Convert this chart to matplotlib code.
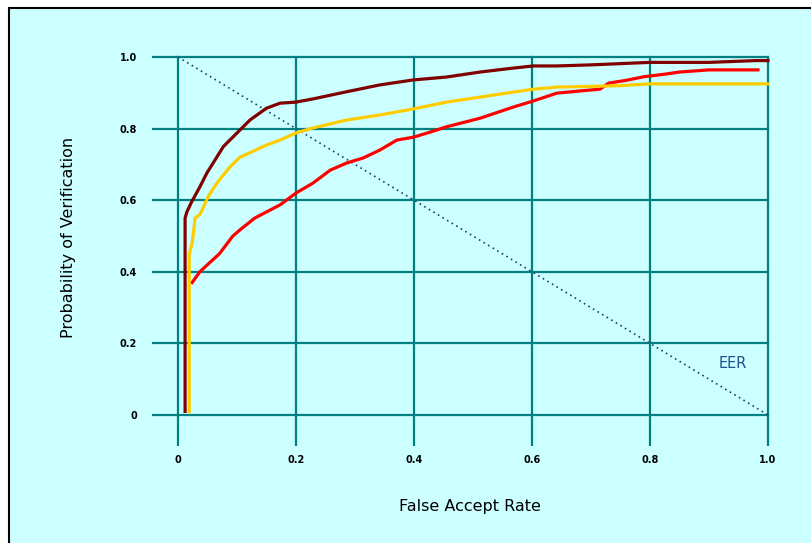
import matplotlib
matplotlib.use("Agg")
import matplotlib.pyplot as plt
from matplotlib.patches import Rectangle

# Data
far_dark = [0.012, 0.012, 0.015, 0.023, 0.037, 0.049, 0.077, 0.105, 0.122, 0.15, 0.173, 0.2, 0.229,
            0.286, 0.342, 0.399, 0.455, 0.512, 0.568, 0.602, 0.642, 0.7, 0.8, 0.9, 0.98, 1.0]
pv_dark = [0.01, 0.55, 0.567, 0.595, 0.637, 0.676, 0.75, 0.796, 0.824, 0.857, 0.871, 0.874, 0.883,
           0.903, 0.922, 0.936, 0.944, 0.958, 0.969, 0.975, 0.975, 0.978, 0.985, 0.985, 0.99, 0.99]

far_yellow = [0.019, 0.019, 0.024, 0.027, 0.029, 0.037, 0.043, 0.051, 0.066, 0.088, 0.105, 0.15,
              0.173, 0.2, 0.229, 0.286, 0.342, 0.399, 0.455, 0.512, 0.568, 0.602, 0.642, 0.7,
              0.75, 0.8, 1.0]
pv_yellow = [0.01, 0.45, 0.48, 0.52, 0.55, 0.56, 0.58, 0.61, 0.648, 0.693, 0.72, 0.754,
             0.768, 0.788, 0.802, 0.824, 0.838, 0.855, 0.874, 0.888, 0.902, 0.91, 0.916, 0.918,
             0.92, 0.925, 0.925]

far_red = [0.024, 0.037, 0.05, 0.07, 0.093, 0.105, 0.13, 0.173, 0.2, 0.229, 0.258, 0.286, 0.314,
           0.342, 0.371, 0.399, 0.427, 0.455, 0.512, 0.568, 0.602, 0.642, 0.68, 0.715, 0.73,
           0.76, 0.79, 0.825, 0.85, 0.9, 0.983]
pv_red = [0.37, 0.4, 0.42, 0.45, 0.5, 0.517, 0.55, 0.587, 0.62, 0.648, 0.684, 0.704, 0.718,
          0.74, 0.768, 0.776, 0.79, 0.805, 0.829, 0.86, 0.877, 0.899, 0.905, 0.91, 0.927,
          0.935, 0.945, 0.952, 0.958, 0.964, 0.964]

eer_x = [0.0, 1.0]
eer_y = [1.0, 0.0]

ticks = [0, 0.2, 0.4, 0.6, 0.8, 1.0]
tick_labels = ["0", "0.2", "0.4", "0.6", "0.8", "1.0"]

bg = "#ccffff"
teal = "#008080"

fig = plt.figure(figsize=(8.11, 5.43), dpi=100)
fig.patch.set_facecolor("white")
fig.patches.append(Rectangle((9 / 811, -0.01), 1.02, 1 - 8 / 543 + 0.01,
                             transform=fig.transFigure, facecolor=bg,
                             edgecolor="black", linewidth=1.5, zorder=-5))

ax = fig.add_axes([178 / 811, 1 - 415 / 543, 590 / 811, 358 / 543])
ax.set_zorder(3)
ax.set_facecolor("none")
ax.set_xlim(0, 1)
ax.set_ylim(0, 1)
for s in ax.spines.values():
    s.set_visible(False)

ax.set_xticks(ticks)
ax.set_yticks(ticks)
ax.set_xticklabels(tick_labels, fontsize=7, fontweight="bold", family="DejaVu Sans")
ax.set_yticklabels(tick_labels, fontsize=7, fontweight="bold", family="DejaVu Sans")
ax.tick_params(axis="x", length=22, width=1.6, color=teal, pad=7)
ax.tick_params(axis="y", length=18.5, width=1.6, color=teal, pad=11)
ax.grid(True, color=teal, linewidth=1.6)
ax.set_axisbelow(True)
for gl in ax.get_xgridlines() + ax.get_ygridlines():
    gl.set_clip_on(False)

ax.plot(eer_x, eer_y, linestyle=(0, (1, 2.2)), color="#1f3f6f", linewidth=1.2, zorder=2)
ax.plot(far_red, pv_red, color="#ff0000", linewidth=2.3, zorder=3, clip_on=False)
ax.plot(far_yellow, pv_yellow, color="#ffcc00", linewidth=2.3, zorder=4, clip_on=False)
ax.plot(far_dark, pv_dark, color="#800000", linewidth=2.3, zorder=5, clip_on=False)

ax.text(0.94, 0.145, "EER", color="#1f4f8f", fontsize=10.5, ha="center", va="center",
        family="DejaVu Sans")

fig.text(470 / 811, 1 - 507 / 543, "False Accept Rate", ha="center", va="center",
         fontsize=11.5, family="DejaVu Sans")
fig.text(68 / 811, 1 - 237 / 543, "Probability of Verification", ha="center", va="center",
         rotation=90, fontsize=11.5, family="DejaVu Sans")

fig.savefig("out.png", dpi=100)
